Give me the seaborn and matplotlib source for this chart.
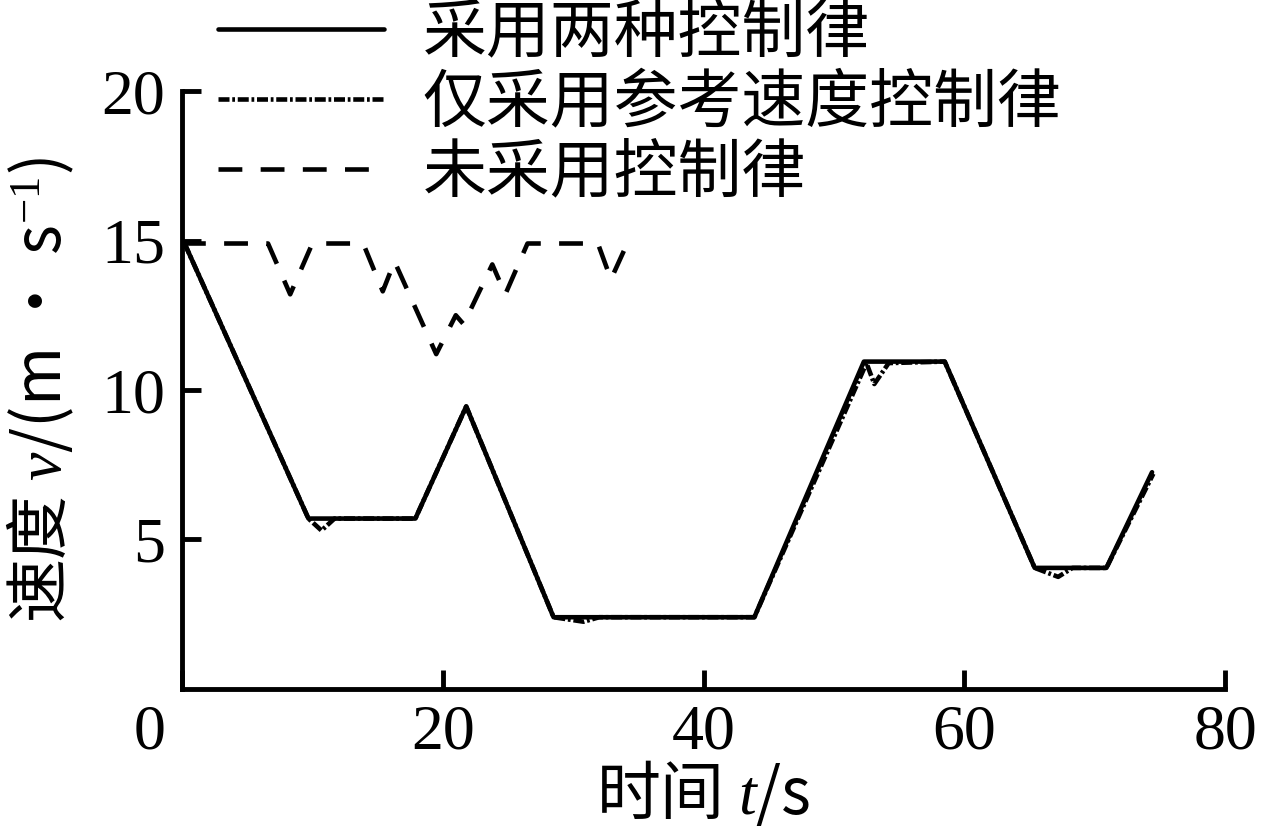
import matplotlib
matplotlib.use("Agg")
import matplotlib.pyplot as plt
import matplotlib.transforms as mtransforms
import seaborn as sns
import pandas as pd

# series
labels = ["采用两种控制律", "仅采用参考速度控制律", "未采用控制律"]

t_both = [0.2, 9.7, 17.9, 21.8, 28.5, 43.9, 52.3, 58.5, 65.4, 70.9, 74.4]
v_both = [14.9, 5.7, 5.7, 9.45, 2.4, 2.4, 10.95, 10.95, 4.05, 4.05, 7.25]

t_ref = [0.2, 9.7, 10.7, 11.7, 17.9, 21.8, 28.5, 30.8, 32.0, 43.9,
         52.5, 53.1, 54.2, 58.5, 65.4, 67.2, 68.3, 70.9, 74.5]
v_ref = [14.9, 5.7, 5.3, 5.7, 5.7, 9.45, 2.4, 2.25, 2.4, 2.4,
         10.9, 10.2, 10.9, 10.95, 4.05, 3.75, 4.05, 4.05, 7.2]

t_none = [0, 6.6, 8.3, 10.0, 13.9, 15.4, 16.3, 19.5, 21.0, 21.6,
          23.8, 24.8, 26.5, 31.9, 32.9, 34.2]
v_none = [14.9, 14.9, 13.2, 14.9, 14.9, 13.3, 14.3, 11.2, 12.5, 12.2,
          14.2, 13.2, 14.9, 14.9, 13.7, 14.95]

xticks = [0, 20, 40, 60, 80]
yticks = [5, 10, 15, 20]

sns.set_theme(style="ticks")
plt.rcParams["font.family"] = ["Noto Sans CJK SC", "DejaVu Sans"]
plt.rcParams["mathtext.fontset"] = "custom"
plt.rcParams["mathtext.rm"] = "Liberation Serif"
plt.rcParams["mathtext.it"] = "Liberation Serif:italic"
plt.rcParams["axes.unicode_minus"] = False
for k in ["text.color", "axes.labelcolor", "xtick.color", "ytick.color"]:
    plt.rcParams[k] = "black"

fig = plt.figure(figsize=(12.61, 8.32), dpi=100)
ax = fig.add_axes([0.1443, 0.1719, 0.9715 - 0.1443, 0.8906 - 0.1719])

lw = 3.3
styles = ["-", (0, (2.4, 0.6, 0.6, 0.6)), (0, (5.2, 4.0))]
series = [(t_both, v_both), (t_ref, v_ref), (t_none, v_none)]
for (tt, vv), lab, ls in zip(series, labels, styles):
    df = pd.DataFrame({"t": tt, "v": vv})
    sns.lineplot(data=df, x="t", y="v", ax=ax, color="black", lw=lw,
                 linestyle=ls, label=lab, sort=False, estimator=None)

ax.set_xlim(0, 80)
ax.set_ylim(0, 20)
ax.set_xticks(xticks)
ax.set_yticks(yticks)
ax.set_xticklabels([str(x) for x in xticks], family="Liberation Serif", fontsize=46)
ax.set_yticklabels([str(y) for y in yticks], family="Liberation Serif", fontsize=46)
ax.tick_params(direction="in", length=14, width=3.5, color="black", pad=11)
ax.tick_params(axis="y", pad=12)
# the "0" label sits left of the origin in the reference
off = mtransforms.ScaledTranslation(-0.32, 0, fig.dpi_scale_trans)
lab0 = ax.get_xticklabels()[0]
lab0.set_transform(lab0.get_transform() + off)

for side in ["left", "bottom"]:
    ax.spines[side].set_linewidth(3.5)
    ax.spines[side].set_color("black")
sns.despine(ax=ax)

ax.set_xlabel("时间 $t$/s", fontsize=46, labelpad=-2)
ax.set_ylabel("速度 $v$/(m • s$^{-1}$)", fontsize=46, labelpad=18)

handles, lbls = ax.get_legend_handles_labels()
ax.legend_.remove()
fig.legend(handles, lbls, loc="upper left", bbox_to_anchor=(0.173, 1.0),
           frameon=False, fontsize=46, handlelength=2.6, handletextpad=0.6,
           labelspacing=0.05, borderpad=0.0, borderaxespad=0.0)

fig.savefig("out.png", dpi=100, facecolor="white")
